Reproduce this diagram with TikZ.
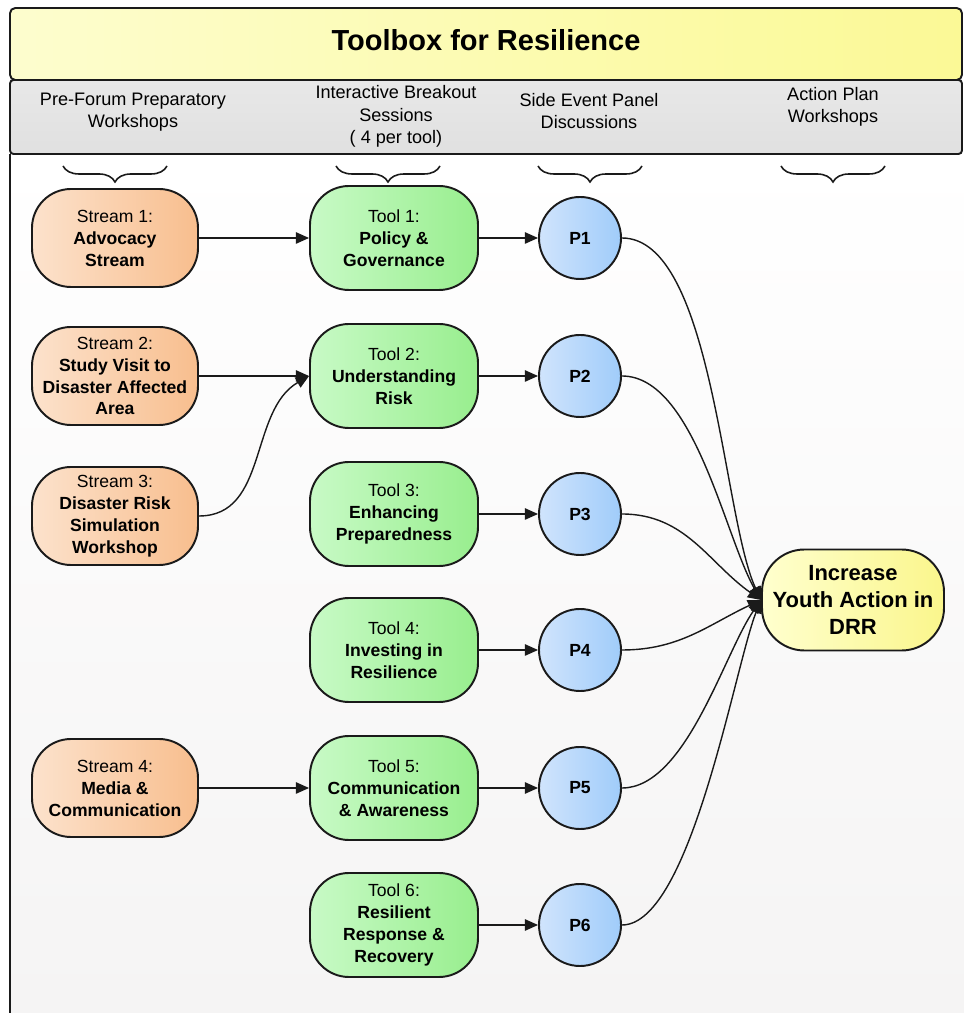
\documentclass[tikz,border=0pt]{standalone}
\usepackage{fontspec}
\setmainfont{Liberation Sans}
\usepackage{tikz}
\usetikzlibrary{arrows.meta,positioning,decorations.pathreplacing}

\definecolor{streamA}{RGB}{252,226,204}
\definecolor{streamB}{RGB}{248,190,142}
\definecolor{toolA}{RGB}{200,250,198}
\definecolor{toolB}{RGB}{152,238,142}
\definecolor{panelA}{RGB}{208,228,252}
\definecolor{panelB}{RGB}{160,204,250}
\definecolor{goalA}{RGB}{255,255,206}
\definecolor{goalB}{RGB}{250,246,140}
\definecolor{titleA}{RGB}{253,253,206}
\definecolor{titleB}{RGB}{251,249,150}
\definecolor{headA}{RGB}{232,232,232}
\definecolor{headB}{RGB}{224,224,224}
\definecolor{bodyB}{RGB}{245,244,244}
\definecolor{edgeC}{RGB}{26,26,26}

\tikzset{
  box/.style={draw=edgeC,line width=1.1pt,align=center,font=\fontsize{10}{12.5}\selectfont},
  stream/.style={box,rounded corners=0.78cm,minimum width=3.32cm,minimum height=1.96cm,left color=streamA,right color=streamB},
  tool/.style={box,rounded corners=0.78cm,minimum width=3.36cm,minimum height=2.08cm,left color=toolA,right color=toolB},
  panel/.style={box,circle,minimum size=1.64cm,left color=panelA,right color=panelB,font=\fontsize{10}{12.5}\selectfont\bfseries},
  goal/.style={box,rounded corners=0.85cm,minimum width=3.64cm,minimum height=2.02cm,left color=goalA,right color=goalB,font=\fontsize{12.5}{15.4}\selectfont\bfseries},
  head/.style={align=center,font=\fontsize{10.3}{12.8}\selectfont},
  bracedown/.style={draw=edgeC,line width=0.9pt,decorate,decoration={brace,mirror,amplitude=0.32cm}},
  link/.style={->,draw=edgeC,line width=0.8pt},
  >={Triangle[length=7.5pt,width=6.5pt]}
}

\begin{document}
\begin{tikzpicture}
	\useasboundingbox (0,0) rectangle (19.28,20.26);
	% Hintergrund
		\fill[top color=white,bottom color=bodyB] (0.2,0) rectangle (19.28,17.18);
		\draw[edgeC,line width=1.1pt] (0.2,17.18) -- (0.2,0);
	% Kopf
		\node (hdr) at (9.72,17.92) [draw=edgeC,line width=1.1pt,rounded corners=2pt,minimum width=19.04cm,minimum height=1.48cm,top color=headA,bottom color=headB] {};
		\node (title) at (9.72,19.38) [draw=edgeC,line width=1.1pt,rounded corners=3pt,minimum width=19.04cm,minimum height=1.44cm,text depth=0.16cm,left color=titleA,right color=titleB,font=\fontsize{16.5}{20}\selectfont\bfseries] {Toolbox for Resilience};
		\node (hd1) at (2.66,18.02) [head] {Pre-Forum Preparatory\\Workshops};
		\node (hd2) at (7.92,17.93) [head] {Interactive Breakout\\Sessions\\( 4 per tool)};
		\node (hd3) at (11.78,18.04) [head] {Side Event Panel\\Discussions};
		\node (hd4) at (16.66,18.12) [head] {Action Plan\\Workshops};
	% Klammern
		\draw[bracedown] (1.26,16.94) -- (3.34,16.94);
		\draw[bracedown] (6.72,16.94) -- (8.8,16.94);
		\draw[bracedown] (10.76,16.94) -- (12.84,16.94);
		\draw[bracedown] (15.62,16.94) -- (17.7,16.94);
	% Knoten
		\node (s1) at (2.3,15.5)  [stream] {Stream 1:\\\textbf{Advocacy}\\\textbf{Stream}};
		\node (s2) at (2.3,12.74) [stream] {Stream 2:\\\textbf{Study Visit to}\\\textbf{Disaster Affected}\\\textbf{Area}};
		\node (s3) at (2.3,9.94)  [stream] {Stream 3:\\\textbf{Disaster Risk}\\\textbf{Simulation}\\\textbf{Workshop}};
		\node (s4) at (2.3,4.5)   [stream] {Stream 4:\\\textbf{Media \&}\\\textbf{Communication}};
		\node (t1) at (7.88,15.5)  [tool] {Tool 1:\\\textbf{Policy \&}\\\textbf{Governance}};
		\node (t2) at (7.88,12.74) [tool] {Tool 2:\\\textbf{Understanding}\\\textbf{Risk}};
		\node (t3) at (7.88,9.98)  [tool] {Tool 3:\\\textbf{Enhancing}\\\textbf{Preparedness}};
		\node (t4) at (7.88,7.26)  [tool] {Tool 4:\\\textbf{Investing in}\\\textbf{Resilience}};
		\node (t5) at (7.88,4.5)   [tool] {Tool 5:\\\textbf{Communication}\\\textbf{\& Awareness}};
		\node (t6) at (7.88,1.76)  [tool] {Tool 6:\\\textbf{Resilient}\\\textbf{Response \&}\\\textbf{Recovery}};
		\node (p1) at (11.6,15.5)  [panel] {P1};
		\node (p2) at (11.6,12.74) [panel] {P2};
		\node (p3) at (11.6,9.98)  [panel] {P3};
		\node (p4) at (11.6,7.26)  [panel] {P4};
		\node (p5) at (11.6,4.5)   [panel] {P5};
		\node (p6) at (11.6,1.76)  [panel] {P6};
		\node (f) at (17.06,8.26) [goal] {Increase\\Youth Action in\\DRR};
	% Kanten
		\draw[link] (s1) -- (t1);
		\draw[link] (s2) -- (t2);
		\draw[link] (s3.east) to[out=0,in=210] (t2.west);
		\draw[link] (s4) -- (t5);
		\draw[link] (t1) -- (p1);
		\draw[link] (t2) -- (p2);
		\draw[link] (t3) -- (p3);
		\draw[link] (t4) -- (p4);
		\draw[link] (t5) -- (p5);
		\draw[link] (t6) -- (p6);
		\draw[link] (p1.east) to[out=0,in=115,looseness=0.6] (f.west);
		\draw[link] (p2.east) to[out=0,in=120,looseness=0.7] (f.west);
		\draw[link] (p3.east) to[out=0,in=145] (f.west);
		\draw[link] (p4.east) to[out=0,in=205] (f.west);
		\draw[link] (p5.east) to[out=0,in=235,looseness=0.7] (f.west);
		\draw[link] (p6.east) to[out=0,in=248,looseness=0.5] (f.west);
\end{tikzpicture}
\end{document}
